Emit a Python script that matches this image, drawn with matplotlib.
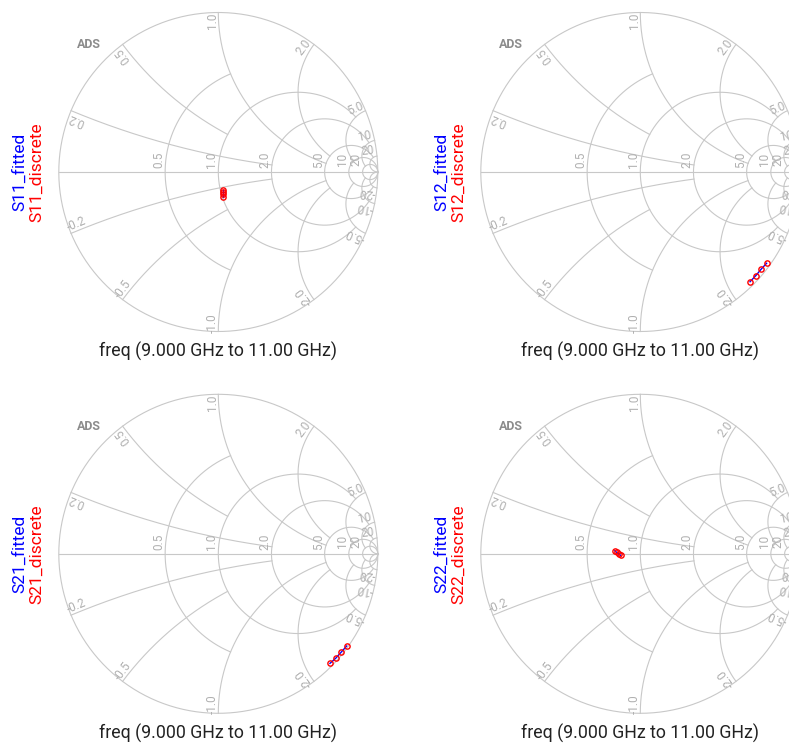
import numpy as np
import matplotlib
matplotlib.use("Agg")
import matplotlib.pyplot as plt

s11_re = [0.028, 0.028, 0.028, 0.028]
s11_im = [-0.110, -0.125, -0.140, -0.155]
s12_re = [0.688, 0.724, 0.757, 0.792]
s12_im = [-0.688, -0.650, -0.610, -0.572]
s21_re = [0.700, 0.736, 0.771, 0.805]
s21_im = [-0.687, -0.655, -0.616, -0.578]
s22_re = [-0.160, -0.148, -0.136, -0.124]
s22_im = [0.019, 0.009, -0.001, -0.010]

names = ["S11", "S12", "S21", "S22"]
traces = [(s11_re, s11_im), (s12_re, s12_im), (s21_re, s21_im), (s22_re, s22_im)]

# grid values: resistance circle -> max |x| drawn, reactance arc -> max r drawn
r_grid = {0.5: 1, 1: 5, 2: 10, 5: 20, 10: np.inf, 20: np.inf}
x_grid = {0.2: 2, 0.5: 1, 1: 5, 2: 5, 5: 10, 10: 20, 20: np.inf}
x_text = {0.2: "0.2", 0.5: "0.5", 1: "1.0", 2: "2.0", 5: "5.0", 10: "10", 20: "20"}
r_text = {0.5: "0.5", 1: "1.0", 2: "2.0", 5: "5.0", 10: "10", 20: "20"}

W, H = 789, 744
R = 159.5
centers = [(218.3, 172.0), (640.3, 172.0), (218.3, 553.8), (640.3, 553.8)]

GRID = "#c8c8c8"
LAB = "#b0b0b0"
FONT = ["Roboto", "DejaVu Sans"]
NARROW = ["Liberation Sans Narrow", "Roboto", "DejaVu Sans"]


def gamma(z):
    return (z - 1) / (z + 1)


def smith_grid(ax):
    t = np.linspace(0, 2 * np.pi, 600)
    ax.plot(np.cos(t), np.sin(t), color=GRID, lw=0.8)
    ax.plot([-1, 1], [0, 0], color=GRID, lw=0.8)
    for r, xm in r_grid.items():
        tm = np.arctan(xm) if np.isfinite(xm) else np.pi / 2 - 1e-4
        g = gamma(r + 1j * np.tan(np.linspace(-tm, tm, 500)))
        ax.plot(g.real, g.imag, color=GRID, lw=0.8)
        gx = (r - 1) / (r + 1)
        ax.text(gx - 0.04, 0.078, r_text[r], rotation=90, color=LAB,
                fontsize=8.5, family=NARROW, ha="center", va="center")
    for x, rm in x_grid.items():
        tm = np.arctan(rm) if np.isfinite(rm) else np.pi / 2 - 1e-4
        rr = np.tan(np.linspace(0, tm, 500))
        for s in (1, -1):
            g = gamma(rr + 1j * s * x)
            ax.plot(g.real, g.imag, color=GRID, lw=0.8)
        g0 = gamma(1j * x)
        th = np.angle(g0)
        inward = -np.array([np.cos(th), np.sin(th)])
        tang = np.array([-np.sin(th), np.cos(th)])
        p = np.array([g0.real, g0.imag]) + inward * 0.055 + tang * 0.038
        ax.text(p[0], p[1], x_text[x], rotation=np.degrees(th), color=LAB,
                fontsize=8.5, family=NARROW, ha="center", va="center",
                rotation_mode="anchor")
        ax.text(p[0], -p[1], "-" + x_text[x], rotation=180 - np.degrees(th),
                color=LAB, fontsize=8.5, family=NARROW, ha="center",
                va="center", rotation_mode="anchor")


fig = plt.figure(figsize=(W / 100, H / 100), dpi=100)
k = 1.25
for (cx, cy), name, (re, im) in zip(centers, names, traces):
    ax = fig.add_axes([(cx - k * R) / W, 1 - (cy + k * R) / H,
                       2 * k * R / W, 2 * k * R / H])
    ax.set_xlim(-k, k)
    ax.set_ylim(-k, k)
    ax.axis("off")
    smith_grid(ax)
    ax.plot(re, im, color="blue", lw=1.0, zorder=4)
    ax.plot(re, im, "o", mfc="none", mec="red", ms=3.8, mew=1.0, zorder=5)
    ax.text(-0.81, 0.80, "ADS", color="#8c8c8c", fontsize=9, family=NARROW,
            fontweight="bold", ha="center", va="center")
    ax.text(0, -1.127, "freq (9.000 GHz to 11.00 GHz)", fontsize=12.8,
            family=FONT, ha="center", va="center", color="#222222")
    ax.text(-1.247, 0, name + "_fitted", rotation=90, color="blue",
            fontsize=12.5, family=FONT, ha="center", va="center")
    ax.text(-1.14, 0, name + "_discrete", rotation=90, color="red",
            fontsize=12.5, family=FONT, ha="center", va="center")

fig.savefig("out.png", dpi=100)
